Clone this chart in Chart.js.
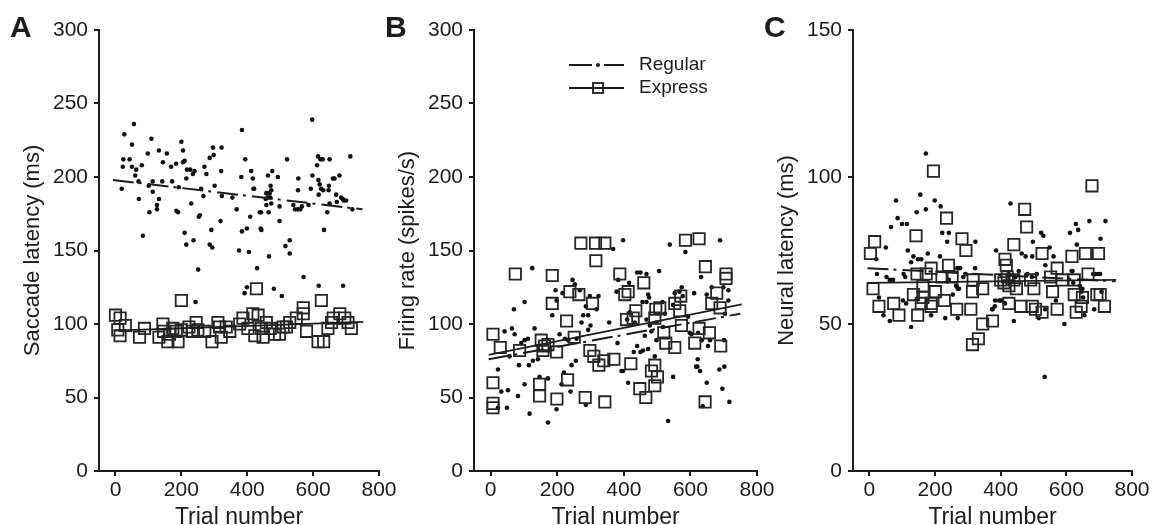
<!DOCTYPE html>
<html>
<head>
<meta charset="utf-8">
<script src="https://cdn.jsdelivr.net/npm/chart.js@4.4.1/dist/chart.umd.min.js"></script>
<style>
  html, body { margin: 0; padding: 0; background: #fff; overflow: hidden; }
  #wrap { position: relative; width: 1153px; height: 525px; overflow: hidden; }
  canvas { position: absolute; top: 0; }
</style>
</head>
<body>
<div id="wrap">
  <canvas id="panelA" width="420" height="545" style="left:0px"></canvas>
  <canvas id="panelB" width="420" height="545" style="left:380px"></canvas>
  <canvas id="panelC" width="393" height="545" style="left:760px"></canvas>
</div>
<script>
// ---- data (trial number, value) ----
const trialTicks = [0, 200, 400, 600, 800];
const latencyTicks = [0, 50, 100, 150, 200, 250, 300];
const neuralTicks = [0, 50, 100, 150];

// A: saccade latency
const saccadeRegular = [
  [56,236],[27,229],[50,222],[24,212],[43,212],[22,207],[50,207],[63,205],[80,208],[60,201],[70,197],[19,192],[71,185],[83,160],
  [109,226],[98,216],[132,218],[156,216],[144,210],[169,207],[184,209],[113,197],[142,197],[101,194],[113,190],[132,185],[126,181],[126,178],[103,176],
  [200,224],[205,218],[205,210],[210,211],[217,205],[227,205],[215,199],[235,202],[240,204],[172,197],[192,193],[185,177],[190,176],[230,182],[210,162],[215,154],[237,157],
  [270,207],[276,202],[286,213],[298,215],[296,220],[322,220],[321,204],[260,192],[267,187],[253,173],[256,174],[301,194],[323,187],[291,164],[319,170],[286,154],[294,152],
  [355,186],[368,178],[384,232],[394,212],[382,200],[412,204],[417,199],[419,192],[421,192],[409,173],[384,163],[399,165],[375,150],[405,149],[443,164],[441,165],
  [463,201],[476,204],[493,200],[471,194],[473,191],[458,189],[462,189],[468,189],[456,185],[462,186],[470,186],[458,181],[473,182],[438,176],[442,176],[465,176],[498,180],[498,170],[466,146],[516,153],[529,157],[529,148],
  [521,212],[555,199],[554,191],[540,181],[545,178],[553,178],[561,178],[566,180],[586,181],[597,239],[615,214],[612,208],[622,212],[629,212],[650,212],[598,201],[593,192],
  [616,198],[620,195],[648,194],[624,192],[631,191],[647,191],[617,188],[660,199],[665,199],[680,201],[670,188],[685,186],[690,185],[693,184],[700,184],[650,182],[672,183],[643,176],[633,164],[713,214],[719,178],
  [251,137],[430,138],[571,132],[617,126],[691,126],[399,125],[392,121],[481,124],[505,119],[243,115]
];
const saccadeExpress = [
  [0,106],[14,104],[7,96],[14,92],[30,99],[73,91],[88,97],[132,91],[144,100],[146,95],[159,88],[164,93],[174,97],[190,88],[184,95],
  [200,116],[200,96],[223,98],[233,95],[245,101],[250,96],[271,95],[293,88],[311,101],[316,98],[321,91],[336,98],[347,95],[377,100],
  [387,104],[402,97],[417,107],[423,92],[433,106],[443,97],[448,91],[428,124],[458,101],[470,97],[483,93],[498,93],[509,98],[519,98],[529,101],
  [549,104],[570,111],[570,107],[580,95],[625,116],[615,88],[632,88],[645,97],[656,101],[661,104],[681,107],[696,104],[706,101],[716,97]
];
const saccadeRegularFitX = [-8, 750];
const saccadeRegularFitY = [198, 178];
const saccadeExpressFitX = [-5, 752];
const saccadeExpressFitY = [95.5, 101.5];

// B: firing rate
const firingRegular = [
  [398,157],[368,151],[125,138],[246,130],[253,127],[268,123],[195,123],[216,121],[298,119],[324,119],[286,112],[318,110],[278,106],[293,106],[300,99],[293,96],[273,101],
  [102,115],[70,110],[185,106],[198,116],[132,97],[64,97],[42,95],[72,93],[102,89],[112,90],[92,87],[207,93],[223,90],[233,89],[258,90],[356,101],[381,87],[393,68],
  [57,78],[85,72],[115,72],[127,75],[142,76],[22,69],[243,72],[256,75],[220,67],[172,63],[147,64],[32,54],[52,55],[102,59],[82,51],[213,59],[240,54],[198,42],[49,43],[22,43],
  [117,39],[172,33],[286,45],[378,122],[383,130],
  [538,154],[585,149],[689,157],[506,136],[440,135],[450,135],[468,134],[416,128],[632,132],[574,125],[567,122],[577,119],[611,121],[649,120],[664,125],[699,125],[714,123],
  [473,120],[476,118],[468,115],[456,115],[516,115],[523,107],[553,121],[548,113],[593,105],[714,116],[704,107],[418,108],[410,103],[433,101],[468,103],[478,99],[498,101],[518,98],
  [483,95],[463,92],[498,89],[598,94],[603,93],[623,94],[634,89],[653,85],[659,89],[701,89],[440,85],[430,81],[458,82],[450,81],[473,83],[493,78],[622,76],[617,71],[621,71],[629,68],
  [687,69],[702,71],[398,68],[548,64],[413,60],[649,60],[696,56],[637,44],[717,47],[533,34]
];
const firingExpress = [
  [271,155],[315,155],[343,155],[316,143],[74,134],[185,133],[388,134],[238,122],[265,120],[306,114],[185,114],[228,102],[7,93],[29,84],[87,82],
  [152,89],[162,85],[172,86],[157,82],[198,81],[251,91],[298,82],[310,78],[325,72],[340,75],[370,76],[7,60],[7,46],[7,43],[147,59],[147,51],[199,49],[231,62],[284,50],[343,47],
  [585,157],[626,158],[645,139],[707,134],[707,131],[679,121],[664,114],[689,111],[571,119],[553,114],[568,109],[573,99],[626,97],[657,94],[613,87],[691,85],[520,94],[526,87],[553,84],
  [460,128],[413,122],[403,120],[436,109],[428,104],[408,103],[496,110],[508,111],[493,104],[421,73],[493,72],[483,68],[501,64],[493,58],[448,56],[466,50],[644,47]
];
const firingRegularFitX = [-6, 750];
const firingRegularFitY = [76, 107];
const firingExpressFitX = [-6, 754];
const firingExpressFitY = [79, 113.4];

// C: neural latency
const neuralRegular = [
  [172,108],[81,92],[155,94],[199,92],[217,90],[430,91],[144,88],[172,89],[86,86],[99,84],[114,84],[66,83],[629,84],[636,82],[670,85],[719,85],[611,81],[523,81],[530,80],[498,78],
  [704,79],[222,81],[242,81],[237,78],[323,78],[50,76],[386,75],[117,75],[178,74],[134,73],[148,72],[158,72],[127,71],[215,73],[21,72],[276,69],[322,69],[104,67],[23,67],[52,66],
  [62,65],[72,65],[286,66],[264,63],[269,62],[254,60],[29,59],[102,58],[112,57],[43,53],[62,51],[188,53],[231,52],[269,52],[127,49],[383,58],[375,55],[395,58],
  [632,77],[549,76],[464,74],[476,73],[496,73],[561,73],[536,70],[619,68],[688,67],[703,67],[455,68],[481,67],[649,62],[400,58],[413,57],[440,51],[594,50],[685,55],[516,52],[655,53],[534,32],
  [109,66],[268,69],[293,67],[242,65],[266,63],[273,62],[374,55],[382,56],[404,58],[424,67],[445,66],[495,66],[510,67],[535,55],[568,58],[616,68],[621,64],[641,63],[646,61],[651,59],
  [682,67],[697,67],[707,61]
];
const neuralExpress = [
  [195,102],[235,86],[142,80],[16,78],[3,74],[282,79],[294,75],[241,70],[188,69],[145,67],[173,67],[221,66],[252,66],[316,65],[11,62],[163,63],[201,61],[134,60],[163,59],[188,57],
  [228,58],[158,57],[314,61],[345,62],[29,56],[74,57],[90,53],[147,53],[188,56],[266,55],[309,55],[345,50],[375,51],[332,45],[314,43],
  [678,97],[473,89],[479,83],[440,77],[526,74],[617,73],[658,74],[698,74],[413,72],[417,70],[572,69],[666,67],[400,65],[420,66],[410,64],[440,65],[491,65],[552,66],[587,65],[624,65],
  [425,63],[448,62],[501,62],[558,61],[693,60],[703,60],[624,60],[649,59],[645,56],[425,57],[461,56],[496,56],[506,55],[526,54],[572,55],[630,54],[716,56]
];
const neuralRegularFitX = [-6, 750];
const neuralRegularFitY = [69, 64.5];
const neuralExpressFitX = [-5, 752];
const neuralExpressFitY = [64, 65];

// ---- drawing ----
const ink = '#1c1c1c';
const family = '"Liberation Sans", Arial, Helvetica, sans-serif';
Chart.defaults.color = ink;
Chart.defaults.font.family = family;

const toPoints = pairs => pairs.map(p => ({x: p[0], y: p[1]}));
const zip = (xs, ys) => xs.map((x, i) => ({x: x, y: ys[i]}));

const panelDecor = {
  id: 'panelDecor',
  afterDraw(chart, args, opts) {
    const {ctx, chartArea} = chart;
    ctx.save();
    ctx.fillStyle = ink;
    ctx.strokeStyle = ink;
    ctx.font = 'bold 30px ' + family;
    ctx.textBaseline = 'alphabetic';
    ctx.fillText(opts.letter, chartArea.left - 89, 37);
    if (opts.legend) {
      const x0 = chartArea.left + 95;
      const y1 = chartArea.top + 35, y2 = chartArea.top + 58;
      ctx.lineWidth = 2;
      ctx.beginPath();
      ctx.moveTo(x0, y1); ctx.lineTo(x0 + 23, y1);
      ctx.moveTo(x0 + 35, y1); ctx.lineTo(x0 + 55, y1);
      ctx.stroke();
      ctx.beginPath(); ctx.arc(x0 + 29, y1, 2, 0, Math.PI * 2); ctx.fill();
      ctx.lineWidth = 1.8;
      ctx.beginPath(); ctx.moveTo(x0, y2); ctx.lineTo(x0 + 55, y2); ctx.stroke();
      ctx.strokeRect(x0 + 24, y2 - 5, 10, 10);
      ctx.font = '19px ' + family;
      ctx.textBaseline = 'middle';
      ctx.fillText('Regular', x0 + 70, y1);
      ctx.fillText('Express', x0 + 70, y2);
    }
    ctx.restore();
  }
};

function makePanel(id, cfg) {
  new Chart(document.getElementById(id), {
    type: 'scatter',
    data: {
      datasets: [
        { data: zip(cfg.regFitX, cfg.regFitY), showLine: true, pointRadius: 0, borderColor: ink, borderWidth: 2, borderDash: [21, 5, 3, 6] },
        { data: zip(cfg.expFitX, cfg.expFitY), showLine: true, pointRadius: 0, borderColor: ink, borderWidth: 1.7 },
        { data: toPoints(cfg.express), pointStyle: 'rect', pointRadius: 8, borderColor: '#262626', borderWidth: 1.8, backgroundColor: 'rgba(0,0,0,0)' },
        { data: toPoints(cfg.regular), pointStyle: 'circle', pointRadius: 2.3, borderWidth: 0, backgroundColor: '#111' }
      ]
    },
    options: {
      responsive: false,
      animation: false,
      events: [],
      layout: { padding: { left: cfg.padLeft, right: cfg.padRight, top: 30, bottom: 0 } },
      plugins: {
        legend: { display: false },
        tooltip: { enabled: false },
        panelDecor: { letter: cfg.letter, legend: cfg.legend }
      },
      scales: {
        x: {
          type: 'linear', min: -50, max: 800,
          afterBuildTicks: s => { s.ticks = trialTicks.map(v => ({value: v})); },
          afterFit: s => { s.height = 74; },
          border: { display: true, color: ink, width: 2 },
          grid: { display: true, drawOnChartArea: false, drawTicks: true, tickLength: 5, color: ink, lineWidth: 2 },
          ticks: { font: { size: 21 }, color: ink, padding: 2, maxRotation: 0, autoSkip: false },
          title: { display: true, text: 'Trial number', font: { size: 23 }, color: ink, padding: { top: 0, bottom: 14 } }
        },
        y: {
          type: 'linear', min: 0, max: cfg.yMax,
          afterBuildTicks: s => { s.ticks = cfg.yTicks.map(v => ({value: v})); },
          afterFit: s => { s.width = 82; },
          border: { display: true, color: ink, width: 2 },
          grid: { display: true, drawOnChartArea: false, drawTicks: true, tickLength: 5, color: ink, lineWidth: 2 },
          ticks: { font: { size: 21 }, color: ink, padding: 6, autoSkip: false },
          title: { display: true, text: cfg.yTitle, font: { size: 22 }, color: ink, padding: { top: 3, bottom: 0 } }
        }
      }
    },
    plugins: [panelDecor]
  });
}

makePanel('panelA', {
  letter: 'A', legend: false, padLeft: 17, padRight: 41, yMax: 300, yTicks: latencyTicks, yTitle: 'Saccade latency (ms)',
  regular: saccadeRegular, express: saccadeExpress,
  regFitX: saccadeRegularFitX, regFitY: saccadeRegularFitY, expFitX: saccadeExpressFitX, expFitY: saccadeExpressFitY
});
makePanel('panelB', {
  letter: 'B', legend: true, padLeft: 12, padRight: 43, yMax: 300, yTicks: latencyTicks, yTitle: 'Firing rate (spikes/s)',
  regular: firingRegular, express: firingExpress,
  regFitX: firingRegularFitX, regFitY: firingRegularFitY, expFitX: firingExpressFitX, expFitY: firingExpressFitY
});
makePanel('panelC', {
  letter: 'C', legend: false, padLeft: 11, padRight: 21, yMax: 150, yTicks: neuralTicks, yTitle: 'Neural latency (ms)',
  regular: neuralRegular, express: neuralExpress,
  regFitX: neuralRegularFitX, regFitY: neuralRegularFitY, expFitX: neuralExpressFitX, expFitY: neuralExpressFitY
});
</script>
</body>
</html>
